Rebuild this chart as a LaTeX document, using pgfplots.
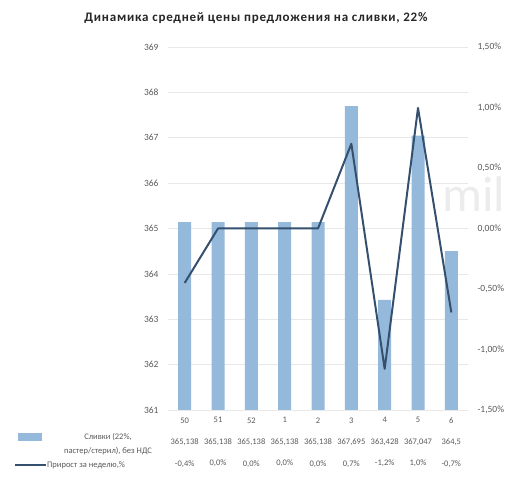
\documentclass[border=0pt]{standalone}
\usepackage{pgfplots}
\pgfplotsset{compat=1.18}
\usepackage{fontspec}
\setmainfont{Carlito}
\definecolor{barc}{HTML}{95B9DA}
\definecolor{linec}{HTML}{34506E}
\definecolor{txt}{HTML}{595959}
\begin{document}
\begin{tikzpicture}[x=1bp,y=1bp]
\path[use as bounding box] (0,0) rectangle (513,477);
\node[font=\bfseries\fontsize{13bp}{15bp}\selectfont\addfontfeature{LetterSpace=6}, text=black!85] at (256,459) {Динамика средней цены предложения на сливки, 22\%};
\node[font=\fontsize{50bp}{50bp}\selectfont, text=gray!15, anchor=base west, inner sep=0pt, text height=0.7em, text depth=0pt] at (442,265) {mil};
\begin{axis}[
  at={(168bp,67bp)}, anchor=south west,
  width=300bp, height=363bp, scale only axis,
  xmin=-0.5, xmax=8.5, ymin=361, ymax=369,
  ytick={361,362,...,369},
  axis line style={draw=none},
  tick style={draw=none},
  ymajorgrids, grid style={gray!18, line width=0.6pt},
  xtick={0,...,8},
  xticklabels={{50\\[12bp]365,138\\[12bp]-0,4\%},{51\\[12bp]365,138\\[12bp]0,0\%},{52\\[12bp]365,138\\[12bp]0,0\%},{1\\[12bp]365,138\\[12bp]0,0\%},{2\\[12bp]365,138\\[12bp]0,0\%},{3\\[12bp]367,695\\[12bp]0,7\%},{4\\[12bp]363,428\\[12bp]-1,2\%},{5\\[12bp]367,047\\[12bp]1,0\%},{6\\[12bp]364,5\\[12bp]-0,7\%}},
  xticklabel style={align=center, font=\fontsize{8.5bp}{9.5bp}\selectfont, text=txt, yshift=-4bp},
  yticklabel style={font=\fontsize{9.5bp}{11bp}\selectfont, text=txt, xshift=-6bp},
  /pgf/number format/assume math mode=true,
  clip=false,
]
\addplot[ybar, bar width=13bp, bar shift=0pt, fill=barc, draw=none] coordinates {
(0,365.138) (1,365.138) (2,365.138) (3,365.138) (4,365.138) (5,367.695) (6,363.428) (7,367.047) (8,364.5)};
\end{axis}
\begin{axis}[
  at={(168bp,67bp)}, anchor=south west,
  width=300bp, height=363bp, scale only axis,
  xmin=-0.5, xmax=8.5, ymin=-1.5, ymax=1.5,
  axis y line*=right, axis x line=none,
  axis line style={draw=none},
  tick style={draw=none},
  ytick={-1.5,-1,...,1.5},
  yticklabel={\pgfmathprintnumber[fixed,fixed zerofill,precision=2,use comma]{\tick}\%},
  yticklabel style={font=\fontsize{9.5bp}{11bp}\selectfont, text=txt, xshift=6bp},
  /pgf/number format/assume math mode=true,
]
\addplot[linec, line width=2pt, line join=round] coordinates {
(0,-0.45) (1,0) (2,0) (3,0) (4,0) (5,0.70) (6,-1.16) (7,0.996) (8,-0.694)};
\end{axis}
% legend of the data table
\fill[barc] (18,36) rectangle (42,44);
\node[font=\fontsize{8.5bp}{14bp}\selectfont, text=txt, align=center] at (108,33) {Сливки (22\%,\\пастер/стерил), без НДС};
\draw[linec, line width=1.5pt] (15,12) -- (46,12);
\node[font=\fontsize{8.5bp}{10bp}\selectfont, text=txt, anchor=west, inner sep=1pt] at (46,12) {Прирост за неделю,\%};
\end{tikzpicture}
\end{document}
